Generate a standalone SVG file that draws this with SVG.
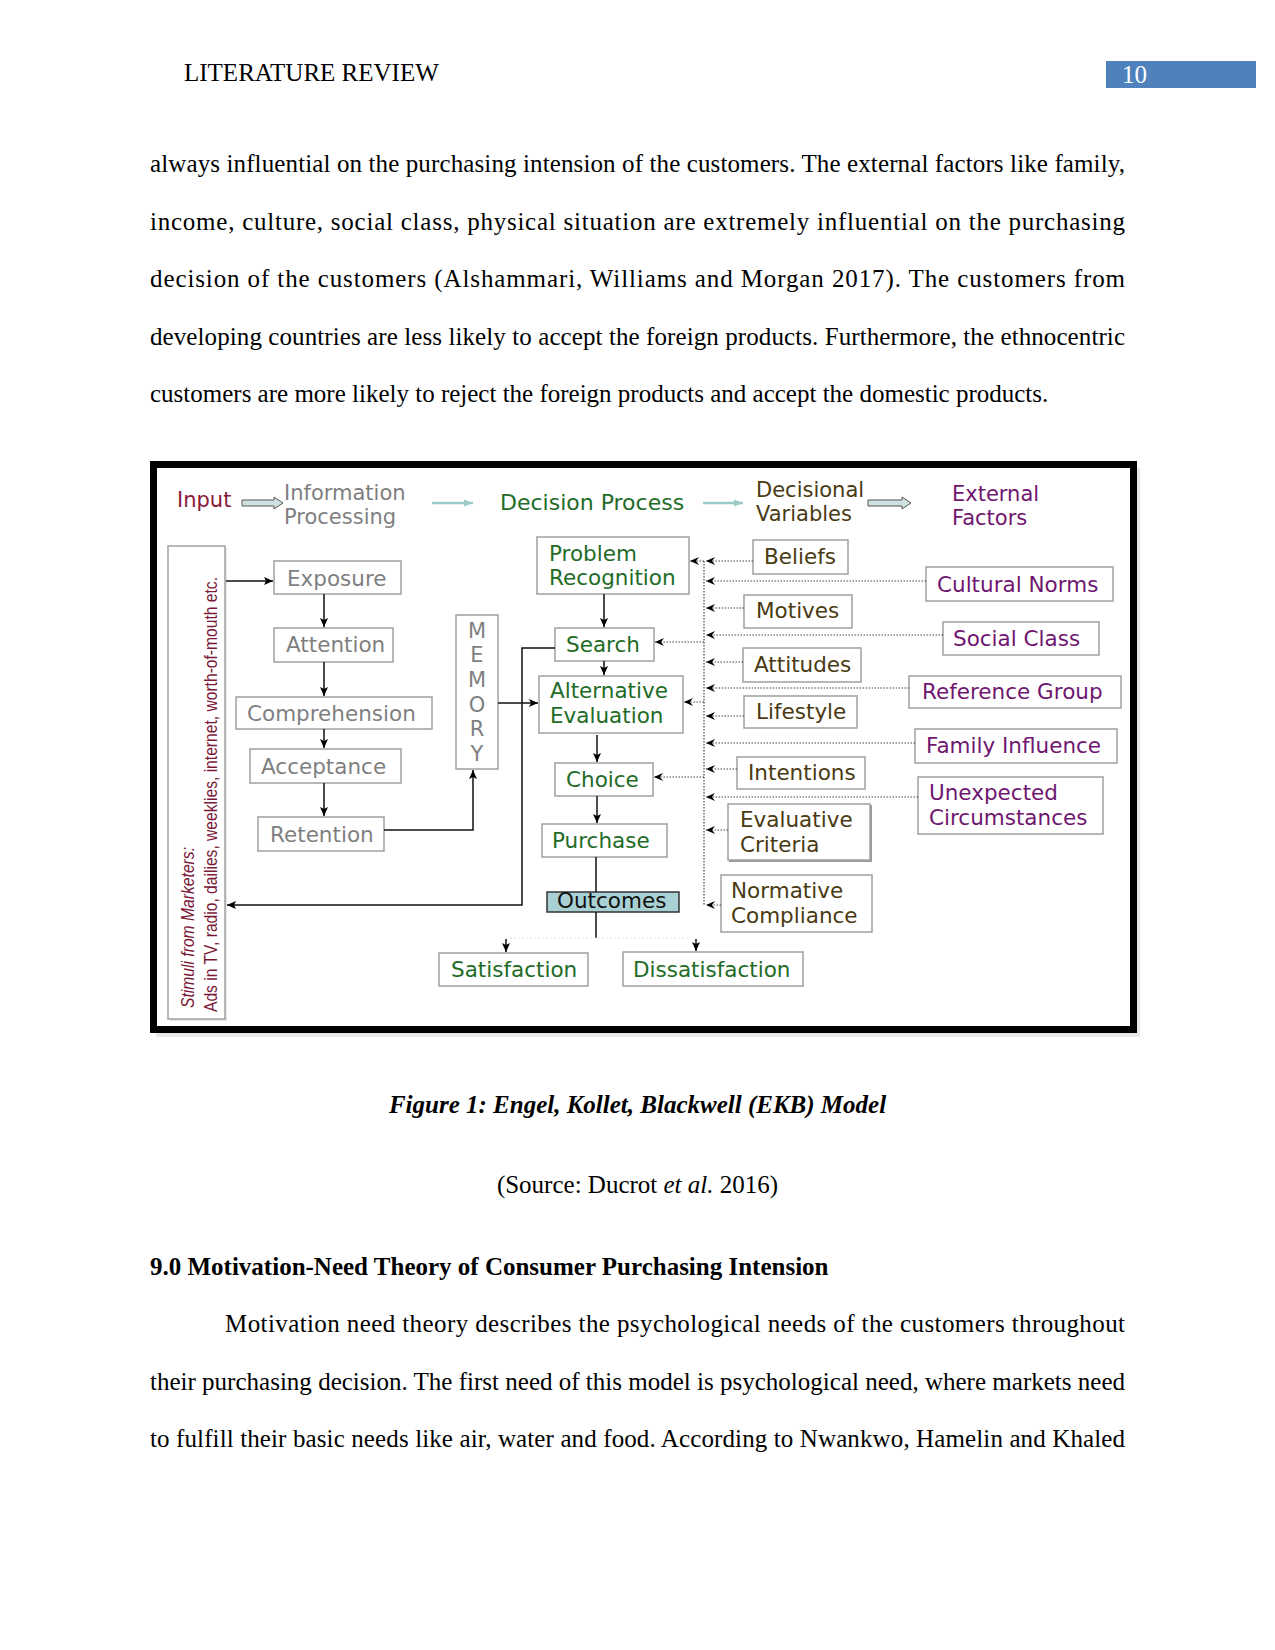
<svg xmlns="http://www.w3.org/2000/svg" width="1275" height="1650" viewBox="0 0 1275 1650">
<style>
.body{font-family:"Liberation Serif","Times New Roman",serif;font-size:25px;fill:#000}
.d{font-family:"DejaVu Sans","Liberation Sans",sans-serif;font-size:21.5px}
.grey{fill:#7f7f7f}
.green{fill:#226b26}
.brown{fill:#4a3a12}
.purple{fill:#6f1670}
.box{fill:#fff;stroke:#a0a0a0;stroke-width:1.5}
.sol{fill:none;stroke:#111;stroke-width:1.5}
.dot{fill:none;stroke:#444;stroke-width:1.2;stroke-dasharray:1.5 1.5}
</style>
<defs>
<marker id="ah" markerUnits="userSpaceOnUse" markerWidth="9" markerHeight="8" refX="9" refY="4" orient="auto">
<path d="M0,0 L9,4 L0,8 L2,4 z" fill="#000"/>
</marker>
<marker id="ahd" markerUnits="userSpaceOnUse" markerWidth="9" markerHeight="8" refX="9" refY="4" orient="auto">
<path d="M0,0 L9,4 L0,8 L3,4 z" fill="#000"/>
</marker>
<marker id="ahl" markerUnits="userSpaceOnUse" markerWidth="9" markerHeight="8" refX="9" refY="4" orient="auto">
<path d="M0,0.5 L9,4 L0,7.5 z" fill="#9cc9c9"/>
</marker>
</defs>
<rect width="1275" height="1650" fill="#fff"/>

<!-- page header -->
<text x="184" y="81" class="body">LITERATURE REVIEW</text>
<rect x="1106" y="61" width="150" height="27" fill="#4f81bd"/>
<text x="1122" y="83" class="body" style="fill:#fff">10</text>

<!-- body paragraph -->
<g class="body">
<text x="150" y="172" textLength="975" lengthAdjust="spacing">always influential on the purchasing intension of the customers. The external factors like family,</text>
<text x="150" y="229.5" textLength="975" lengthAdjust="spacing">income, culture, social class, physical situation are extremely influential on the purchasing</text>
<text x="150" y="287" textLength="975" lengthAdjust="spacing">decision of the customers (Alshammari, Williams and Morgan 2017). The customers from</text>
<text x="150" y="344.5" textLength="975" lengthAdjust="spacing">developing countries are less likely to accept the foreign products. Furthermore, the ethnocentric</text>
<text x="150" y="402">customers are more likely to reject the foreign products and accept the domestic products.</text>
</g>

<!-- figure frame -->
<rect x="156" y="468" width="984" height="569" fill="#d8d8d8" opacity="0.6"/>
<rect x="153.5" y="464.5" width="980" height="565" fill="#fff" stroke="#000" stroke-width="7"/>

<!-- header labels -->
<g id="header">
<text x="177" y="507" class="d" style="font-size:21px;fill:#8a1838">Input</text>
<path d="M242,500 H274 V497 L283,503 L274,509 V506 H242 z" fill="#cfe2e2" stroke="#555" stroke-width="1"/>
<text class="d grey" style="font-size:21px"><tspan x="284" y="500">Information</tspan><tspan x="284" y="524">Processing</tspan></text>
<line x1="432" y1="503" x2="473" y2="503" stroke="#9cc9c9" stroke-width="2.5" marker-end="url(#ahl)"/>
<text x="500" y="510" class="d green" style="font-size:22px">Decision Process</text>
<line x1="703" y1="503" x2="743" y2="503" stroke="#9cc9c9" stroke-width="2.5" marker-end="url(#ahl)"/>
<text class="d brown" style="font-size:21px"><tspan x="756" y="497">Decisional</tspan><tspan x="756" y="521">Variables</tspan></text>
<path d="M868,500 H902 V497 L911,503 L902,509 V506 H868 z" fill="#cfe2e2" stroke="#555" stroke-width="1"/>
<text class="d purple" style="font-size:21px"><tspan x="952" y="501">External</tspan><tspan x="952" y="525">Factors</tspan></text>
</g>

<!-- stimuli -->
<g id="stimuli">
<rect x="170" y="548" width="57" height="473" fill="#e6e6e6"/>
<rect x="168" y="546" width="57" height="473" class="box"/>
<text transform="translate(194,1008) rotate(-90)" style="font-family:'Liberation Sans',Arial,sans-serif;font-size:19px;font-style:italic;fill:#7a1838" textLength="161" lengthAdjust="spacingAndGlyphs">Stimuli from Marketers:</text>
<text transform="translate(217,1012) rotate(-90)" style="font-family:'Liberation Sans',Arial,sans-serif;font-size:19px;fill:#7a1838" textLength="435" lengthAdjust="spacingAndGlyphs">Ads in TV, radio, dailies, weeklies, internet, worth-of-mouth etc.</text>
</g>

<!-- information processing -->
<g id="exposure"><rect x="274" y="561" width="127" height="33" class="box"/><text x="287" y="586" class="d grey">Exposure</text></g>
<g id="attention"><rect x="274" y="628" width="119" height="34" class="box"/><text x="286" y="652" class="d grey">Attention</text></g>
<g id="comprehension"><rect x="236" y="697" width="196" height="32" class="box"/><text x="247" y="721" class="d grey">Comprehension</text></g>
<g id="acceptance"><rect x="250" y="749" width="151" height="34" class="box"/><text x="261" y="774" class="d grey">Acceptance</text></g>
<g id="retention"><rect x="258" y="817" width="126" height="34" class="box"/><text x="270" y="842" class="d grey">Retention</text></g>
<g id="memory"><rect x="456" y="615" width="42" height="154" class="box"/>
<text class="d grey" text-anchor="middle" style="font-size:21px"><tspan x="477" y="638">M</tspan><tspan x="477" y="662">E</tspan><tspan x="477" y="687">M</tspan><tspan x="477" y="712">O</tspan><tspan x="477" y="736">R</tspan><tspan x="477" y="761">Y</tspan></text></g>

<!-- decision process -->
<g id="problem"><rect x="537" y="537" width="152" height="57" class="box"/><text class="d green"><tspan x="549" y="561">Problem</tspan><tspan x="549" y="585">Recognition</tspan></text></g>
<g id="search"><rect x="555" y="628" width="99" height="33" class="box"/><text x="566" y="652" class="d green">Search</text></g>
<g id="alternative"><rect x="539" y="676" width="144" height="57" class="box"/><text class="d green"><tspan x="550" y="698">Alternative</tspan><tspan x="550" y="723">Evaluation</tspan></text></g>
<g id="choice"><rect x="555" y="763" width="98" height="33" class="box"/><text x="566" y="787" class="d green">Choice</text></g>
<g id="purchase"><rect x="542" y="824" width="125" height="33" class="box"/><text x="552" y="848" class="d green">Purchase</text></g>
<g id="outcomes"><rect x="547" y="892" width="132" height="20" fill="#a9d0d3" stroke="#333" stroke-width="1.5"/><text x="557" y="908" class="d" style="fill:#111">Outcomes</text></g>
<g id="satisfaction"><rect x="439" y="953" width="149" height="33" class="box"/><text x="451" y="977" class="d green">Satisfaction</text></g>
<g id="dissatisfaction"><rect x="623" y="952" width="180" height="34" class="box"/><text x="633" y="977" class="d green">Dissatisfaction</text></g>

<!-- decisional variables -->
<g id="beliefs"><rect x="753" y="540" width="95" height="34" class="box"/><text x="764" y="564" class="d brown">Beliefs</text></g>
<g id="motives"><rect x="744" y="595" width="108" height="33" class="box"/><text x="756" y="618" class="d brown">Motives</text></g>
<g id="attitudes"><rect x="743" y="648" width="118" height="34" class="box"/><text x="754" y="672" class="d brown">Attitudes</text></g>
<g id="lifestyle"><rect x="744" y="696" width="113" height="32" class="box"/><text x="756" y="719" class="d brown">Lifestyle</text></g>
<g id="intentions"><rect x="737" y="757" width="128" height="32" class="box"/><text x="748" y="780" class="d brown">Intentions</text></g>
<g id="evaluative"><rect x="729" y="805" width="143" height="57" fill="#9a9a9a"/><rect x="728" y="804" width="142" height="56" class="box"/><text class="d brown"><tspan x="740" y="827">Evaluative</tspan><tspan x="740" y="852">Criteria</tspan></text></g>
<g id="normative"><rect x="721" y="875" width="151" height="57" class="box"/><text class="d brown"><tspan x="731" y="898">Normative</tspan><tspan x="731" y="923">Compliance</tspan></text></g>

<!-- external factors -->
<g id="cultural"><rect x="926" y="567" width="187" height="34" class="box"/><text x="937" y="592" class="d purple">Cultural Norms</text></g>
<g id="social"><rect x="943" y="622" width="156" height="33" class="box"/><text x="953" y="646" class="d purple">Social Class</text></g>
<g id="reference"><rect x="909" y="676" width="212" height="32" class="box"/><text x="922" y="699" class="d purple">Reference Group</text></g>
<g id="family"><rect x="915" y="729" width="202" height="34" class="box"/><text x="926" y="753" class="d purple">Family Influence</text></g>
<g id="unexpected"><rect x="918" y="777" width="185" height="57" class="box"/><text class="d purple"><tspan x="929" y="800">Unexpected</tspan><tspan x="929" y="825">Circumstances</tspan></text></g>

<!-- connectors -->
<g id="connectors">
<line x1="226" y1="581" x2="273" y2="581" class="sol" marker-end="url(#ah)"/>
<line x1="324" y1="594" x2="324" y2="627" class="sol" marker-end="url(#ah)"/>
<line x1="324" y1="662" x2="324" y2="696" class="sol" marker-end="url(#ah)"/>
<line x1="324" y1="729" x2="324" y2="748" class="sol" marker-end="url(#ah)"/>
<line x1="324" y1="783" x2="324" y2="816" class="sol" marker-end="url(#ah)"/>
<polyline points="384,830 473,830 473,770" class="sol" marker-end="url(#ah)"/>
<line x1="498" y1="703" x2="538" y2="703" class="sol" marker-end="url(#ah)"/>
<polyline points="555,648 522,648 522,905 227,905" class="sol" marker-end="url(#ah)"/>
<line x1="604" y1="594" x2="604" y2="627" class="sol" marker-end="url(#ah)"/>
<line x1="604" y1="661" x2="604" y2="675" class="sol" marker-end="url(#ah)"/>
<line x1="597" y1="735" x2="597" y2="762" class="sol" marker-end="url(#ah)"/>
<line x1="597" y1="796" x2="597" y2="823" class="sol" marker-end="url(#ah)"/>
<line x1="596" y1="857" x2="596" y2="892" class="sol"/>
<line x1="596" y1="912" x2="596" y2="938" class="sol"/>
<line x1="506" y1="938" x2="690" y2="938" stroke="#e4e4e4" stroke-width="1" stroke-dasharray="2 2"/>
<line x1="506" y1="939" x2="506" y2="952" class="sol" marker-end="url(#ah)"/>
<line x1="696" y1="939" x2="696" y2="951" class="sol" marker-end="url(#ah)"/>

<line x1="704" y1="561" x2="704" y2="905" class="dot"/>
<line x1="753" y1="561" x2="706" y2="561" class="dot" marker-end="url(#ahd)"/>
<line x1="704" y1="561" x2="690" y2="561" class="dot" marker-end="url(#ahd)"/>
<line x1="926" y1="581" x2="706" y2="581" class="dot" marker-end="url(#ahd)"/>
<line x1="744" y1="608" x2="706" y2="608" class="dot" marker-end="url(#ahd)"/>
<line x1="943" y1="635" x2="706" y2="635" class="dot" marker-end="url(#ahd)"/>
<line x1="704" y1="642" x2="655" y2="642" class="dot" marker-end="url(#ahd)"/>
<line x1="743" y1="662" x2="706" y2="662" class="dot" marker-end="url(#ahd)"/>
<line x1="909" y1="688" x2="706" y2="688" class="dot" marker-end="url(#ahd)"/>
<line x1="704" y1="702" x2="684" y2="702" class="dot" marker-end="url(#ahd)"/>
<line x1="744" y1="716" x2="706" y2="716" class="dot" marker-end="url(#ahd)"/>
<line x1="915" y1="743" x2="706" y2="743" class="dot" marker-end="url(#ahd)"/>
<line x1="737" y1="769" x2="706" y2="769" class="dot" marker-end="url(#ahd)"/>
<line x1="704" y1="777" x2="654" y2="777" class="dot" marker-end="url(#ahd)"/>
<line x1="918" y1="797" x2="706" y2="797" class="dot" marker-end="url(#ahd)"/>
<line x1="728" y1="830" x2="706" y2="830" class="dot" marker-end="url(#ahd)"/>
<line x1="721" y1="905" x2="706" y2="905" class="dot" marker-end="url(#ahd)"/>
</g>

<!-- caption and following text -->
<text x="637.5" y="1113" text-anchor="middle" class="body" style="font-weight:bold;font-style:italic">Figure 1: Engel, Kollet, Blackwell (EKB) Model</text>
<text x="637.5" y="1193" text-anchor="middle" class="body">(Source: Ducrot <tspan font-style="italic">et al.</tspan> 2016)</text>
<text x="150" y="1275" class="body" style="font-weight:bold">9.0 Motivation-Need Theory of Consumer Purchasing Intension</text>
<g class="body">
<text x="225" y="1332" textLength="900" lengthAdjust="spacing">Motivation need theory describes the psychological needs of the customers throughout</text>
<text x="150" y="1390" textLength="975" lengthAdjust="spacing">their purchasing decision. The first need of this model is psychological need, where markets need</text>
<text x="150" y="1447" textLength="975" lengthAdjust="spacing">to fulfill their basic needs like air, water and food. According to Nwankwo, Hamelin and Khaled</text>
</g>
</svg>
